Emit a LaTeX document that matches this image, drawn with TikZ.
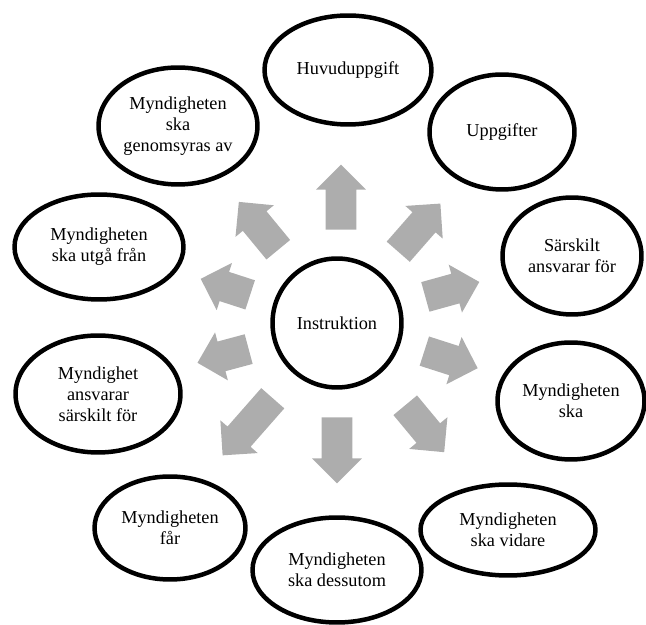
\documentclass[tikz,border=0pt]{standalone}
\usepackage{fontspec}
\setmainfont{Liberation Serif}
\usepackage{xcolor}
\usetikzlibrary{shapes.geometric,shapes.arrows}
\definecolor{arrowgray}{RGB}{173,173,173}

\begin{document}
\begin{tikzpicture}[x=0.02cm,y=0.02cm,
    main node/.style={ellipse,draw,line width=0.09cm,inner sep=0pt,align=center,font=\fontsize{10.4}{12}\selectfont},
    out arrow/.style={single arrow,fill=arrowgray,draw=none,inner sep=0pt,single arrow head extend=0.19cm,anchor=tail}]
                \useasboundingbox (0,0) rectangle (646,625);

                % center
                \node[main node,circle,minimum size=2.58cm] (0) at (337,302) {Instruktion};

                % outer ring
                \node[main node,minimum width=3.34cm,minimum height=2.18cm] (1) at (348,555) {Huvuduppgift};
                \node[main node,minimum width=2.90cm,minimum height=2.30cm] (2) at (502,493) {Uppgifter};
                \node[main node,minimum width=2.78cm,minimum height=2.34cm] (3) at (572,369) {Särskilt\\ansvarar för};
                \node[main node,minimum width=2.94cm,minimum height=2.34cm] (4) at (571,224) {Myndigheten\\ska};
                \node[main node,minimum width=3.50cm,minimum height=1.82cm] (5) at (508,95) {Myndigheten\\ska vidare};
                \node[main node,minimum width=3.38cm,minimum height=2.10cm] (6) at (337,55) {Myndigheten\\ska dessutom};
                \node[main node,minimum width=3.02cm,minimum height=2.06cm] (7) at (170,97) {Myndigheten\\får};
                \node[main node,minimum width=3.30cm,minimum height=2.34cm] (8) at (98,231) {Myndighet\\ansvarar\\särskilt för};
                \node[main node,minimum width=3.38cm,minimum height=2.10cm] (9) at (99,378) {Myndigheten\\ska utgå från};
                \node[main node,minimum width=3.18cm,minimum height=2.34cm] (10) at (178,499) {Myndigheten\\ska\\genomsyras av};

                % arrows
                \node[out arrow,rotate=90,minimum height=1.30cm] (a1) at (341,395) {\rule{0pt}{0.6cm}};
                \node[out arrow,rotate=48.8,minimum height=1.28cm] (a2) at (398,373) {\rule{0pt}{0.6cm}};
                \node[out arrow,rotate=15.5,minimum height=1.12cm] (a3) at (425,328) {\rule{0pt}{0.6cm}};
                \node[out arrow,rotate=-17.8,minimum height=1.12cm] (a4) at (424,274) {\rule{0pt}{0.6cm}};
                \node[out arrow,rotate=-50.3,minimum height=1.22cm] (a5) at (405,220) {\rule{0pt}{0.6cm}};
                \node[out arrow,rotate=-90,minimum height=1.32cm] (a6) at (337,208) {\rule{0pt}{0.6cm}};
                \node[out arrow,rotate=-131.3,minimum height=1.52cm] (a7) at (273,227) {\rule{0pt}{0.6cm}};
                \node[out arrow,rotate=-165,minimum height=1.06cm] (a8) at (249,276) {\rule{0pt}{0.6cm}};
                \node[out arrow,rotate=162,minimum height=1.04cm] (a9) at (250.5,330) {\rule{0pt}{0.6cm}};
                \node[out arrow,rotate=129.5,minimum height=1.24cm] (a10) at (278.5,375) {\rule{0pt}{0.6cm}};
            \end{tikzpicture}
\end{document}
